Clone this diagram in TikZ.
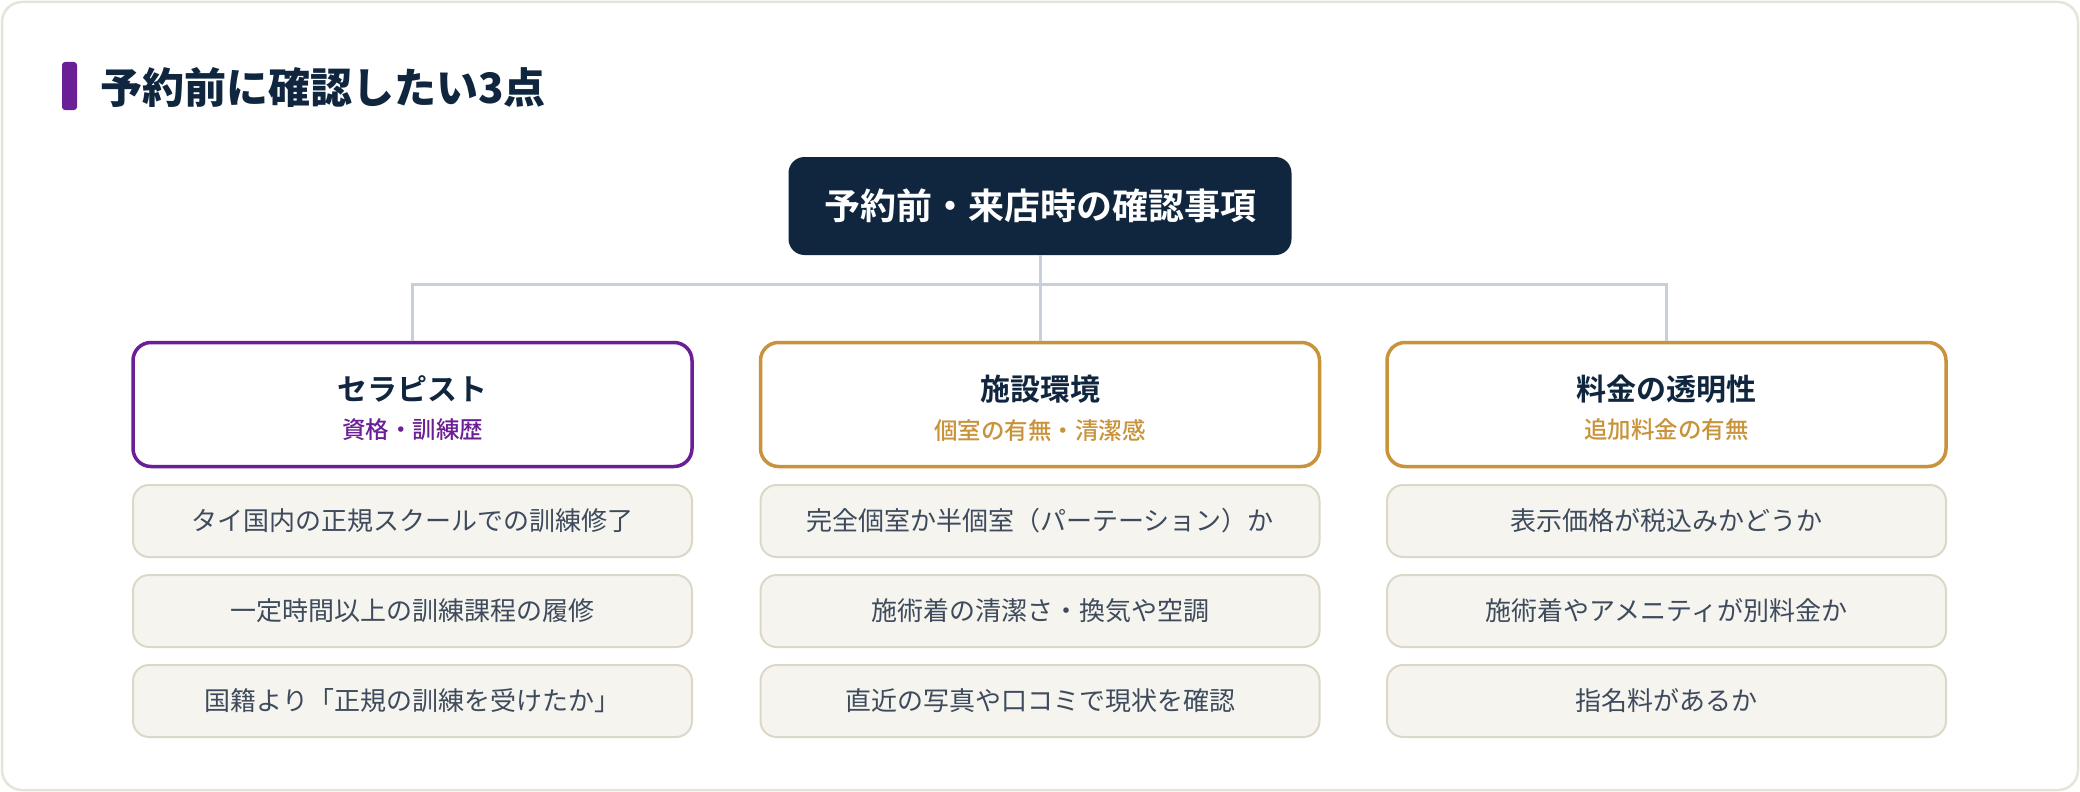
\documentclass[tikz,border=0pt]{standalone}
\usepackage{fontspec}
\setmainfont{Noto Sans CJK JP}[BoldFont={Noto Sans CJK JP Bold}]
\newfontfamily\jpmed{Noto Sans CJK JP Medium}
\newfontfamily\jpblack{Noto Sans CJK JP Black}
\definecolor{navy}{HTML}{10263F}
\definecolor{purp}{HTML}{6A1F96}
\definecolor{gold}{HTML}{C8933A}
\definecolor{conncol}{HTML}{C9CFD8}
\definecolor{itemfill}{HTML}{F5F4EF}
\definecolor{itemline}{HTML}{DCD8C8}
\definecolor{itemtext}{HTML}{3E4B5C}
\definecolor{framecol}{HTML}{E6E4D8}
\tikzset{
  rootbox/.style={fill=navy, rounded corners=16pt, minimum width=503pt, minimum height=98pt, inner sep=0pt,
    text=white, font=\fontsize{36}{40}\selectfont\bfseries},
  headbox/.style={draw=#1, line width=3.5pt, fill=white, rounded corners=18pt, minimum width=559pt, minimum height=124pt, inner sep=0pt},
  headtitle/.style={text=navy, inner sep=0pt, font=\fontsize{30}{34}\selectfont\bfseries},
  headsub/.style={text=#1, inner sep=0pt, font=\fontsize{23.5}{27}\selectfont\jpmed},
  itembox/.style={draw=itemline, line width=2pt, fill=itemfill, rounded corners=16pt, minimum width=559pt, minimum height=72pt, inner sep=0pt,
    text=itemtext, font=\fontsize{26}{30}\selectfont},
  conn/.style={draw=conncol, line width=3pt},
}
\begin{document}
\begin{tikzpicture}[x=1pt,y=-1pt]
\useasboundingbox (0,0) rectangle (2080,792);
\fill[white] (0,0) rectangle (2080,792);
\draw[framecol, line width=2.5pt, rounded corners=20pt] (2,2) rectangle (2078,790);
% title
\fill[purp, rounded corners=3pt] (62,62) rectangle (77,110);
\node[anchor=west, inner sep=0pt, text=navy, font=\fontsize{42}{48}\selectfont\jpblack] (title) at (100,88) {予約前に確認したい3点};
% root
\node[rootbox] (root) at (1040,206) {予約前・来店時の確認事項};
% headers
\node[headbox=purp] (h1) at (412.5,404.5) {};
\node[headbox=gold] (h2) at (1040,404.5) {};
\node[headbox=gold] (h3) at (1666.5,404.5) {};
\node[headtitle] (h1t) at (412.5,389) {セラピスト};
\node[headsub=purp] (h1s) at (412.5,430) {資格・訓練歴};
\node[headtitle] (h2t) at (1040,389) {施設環境};
\node[headsub=gold] (h2s) at (1040,430) {個室の有無・清潔感};
\node[headtitle] (h3t) at (1666.5,389) {料金の透明性};
\node[headsub=gold] (h3s) at (1666.5,430) {追加料金の有無};
% connectors
\coordinate (j) at (1040,284);
\draw[conn] (root.south) -- (h2.north);
\draw[conn] (h1.north) -- (h1.north |- j) -- (h3.north |- j) -- (h3.north);
% items
\node[itembox] (a1) at (412.5,521) {タイ国内の正規スクールでの訓練修了};
\node[itembox] (a2) at (412.5,611) {一定時間以上の訓練課程の履修};
\node[itembox] (a3) at (412.5,701) {国籍より「正規の訓練を受けたか」};
\node[itembox] (b1) at (1040,521) {完全個室か半個室（パーテーション）か};
\node[itembox] (b2) at (1040,611) {施術着の清潔さ・換気や空調};
\node[itembox] (b3) at (1040,701) {直近の写真や口コミで現状を確認};
\node[itembox] (c1) at (1666.5,521) {表示価格が税込みかどうか};
\node[itembox] (c2) at (1666.5,611) {施術着やアメニティが別料金か};
\node[itembox] (c3) at (1666.5,701) {指名料があるか};
\end{tikzpicture}
\end{document}
